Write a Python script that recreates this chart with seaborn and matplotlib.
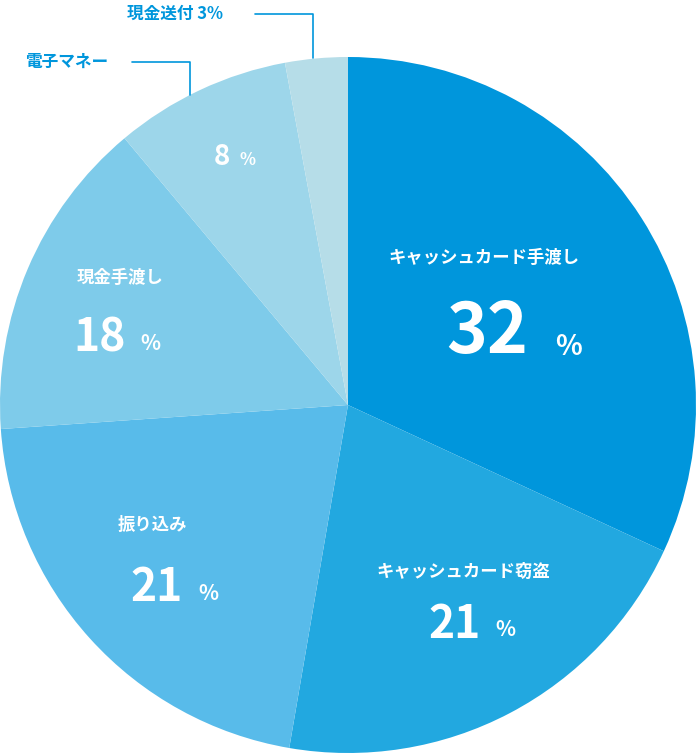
import matplotlib
matplotlib.use("Agg")
import matplotlib.pyplot as plt
import seaborn as sns

sns.set_theme(style="white")
plt.rcParams["font.family"] = "Noto Sans CJK JP"

categories = ["キャッシュカード手渡し", "キャッシュカード窃盗", "振り込み", "現金手渡し", "電子マネー", "現金送付"]
shares = [31.9, 20.8, 21.2, 15.0, 8.2, 2.9]      # slice sizes as drawn
labels_pct = [32, 21, 21, 18, 8, 3]               # printed percentages
colors = ["#0096dc", "#22a8e0", "#58bbea", "#7ecbea", "#9dd6ea", "#b6dde8"]

W, H = 697, 754
fig = plt.figure(figsize=(W / 100, H / 100), dpi=100)
cx, cy, r = 348, 405, 348
ax = fig.add_axes([(cx - r) / W, (H - cy - r) / H, 2 * r / W, 2 * r / H])
ax.pie(shares, colors=sns.color_palette(colors), startangle=90, counterclock=False,
       radius=1, wedgeprops=dict(linewidth=0))
ax.set_xlim(-1, 1); ax.set_ylim(-1, 1); ax.set_aspect("equal"); ax.axis("off")

def P(px, py):
    return ((px - cx) / r, (cy - py) / r)

def t(px, py, s, size, color="white", ha="center"):
    ax.text(*P(px, py), s, fontsize=size, color=color, ha=ha, va="center",
            fontweight="bold", clip_on=False)

# inside labels
t(484, 258, categories[0], 12.5)
t(487, 333, str(labels_pct[0]), 50)
t(568, 347, "%", 20)
t(463, 572, categories[1], 12.5)
t(455, 625, str(labels_pct[1]), 32)
t(505, 630, "%", 15)
t(152, 525, categories[2], 12.5)
t(157, 588, str(labels_pct[2]), 32)
t(208, 593, "%", 15)
t(120, 278, categories[3], 12.5)
t(100, 338, str(labels_pct[3]), 32)
t(150, 343, "%", 15)
t(222, 157, str(labels_pct[4]), 20)
t(248, 160, "%", 12)

# outside labels with leader lines
lc = "#0096dc"
t(175, 14, f"{categories[5]} {labels_pct[5]}%", 12, color=lc)
xs, ys = zip(P(255, 14), P(313, 14), P(313, 58))
ax.plot(xs, ys, color=lc, lw=1.2, clip_on=False)
t(67, 62, categories[4], 12, color=lc)
xs, ys = zip(P(132, 62), P(190, 62), P(190, 95))
ax.plot(xs, ys, color=lc, lw=1.2, clip_on=False)

fig.savefig("out.png", dpi=100, facecolor="white")
